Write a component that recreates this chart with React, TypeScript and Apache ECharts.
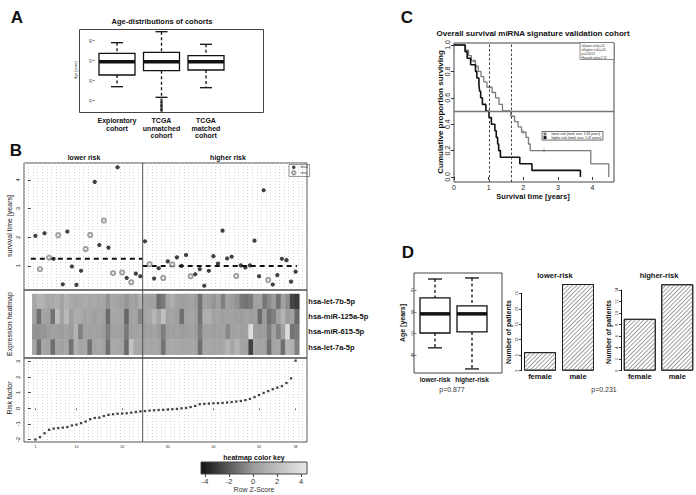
import React, { useEffect, useRef } from 'react';
import * as echarts from 'echarts';

const FONT = '"Liberation Sans", Arial, Helvetica, sans-serif';

// ---------- Panel A ----------
const cohortNames = ['Exploratory\ncohort', 'TCGA\nunmatched\ncohort', 'TCGA\nmatched\ncohort'];
// [lower whisker, Q1, median, Q3, upper whisker]
const cohortBoxStats = [
  [34, 45.7, 59, 67.4, 78],
  [23.4, 50, 59, 68.4, 89],
  [33, 50.7, 59, 65, 76.4],
];
const unmatchedOutliers = [21, 19, 18, 16, 15, 14, 12, 11, 10];
const ageTicksA = [20, 40, 60, 80];

// ---------- Panel B ----------
const survivalTime = [
  2.05, 0.89, 2.14, 1.29, 1.25, 2.07, 0.36, 2.2, 0.98, 0.34,
  0.83, 1.59, 2.08, 3.93, 1.73, 2.58, 1.64, 0.75, 4.44, 0.77,
  0.58, 0.43, 0.73, 0.64, 1.86, 1.06, 0.56, 0.92, 0.58, 1.16,
  1.05, 1.3, 1.0, 1.38, 0.64, 0.71, 0.89, 0.31, 0.83, 1.34,
  1.08, 2.23, 1.26, 1.32, 0.65, 1.02, 0.95, 1.02, 1.88, 0.64,
  3.64, 0.51, 0.35, 0.68, 1.25, 1.2, 0.45, 0.8,
];
// 1 = dead, 0 = alive
const deadStatus = [
  1, 0, 1, 0, 1, 0, 1, 1, 1, 1,
  1, 0, 0, 1, 1, 0, 1, 0, 1, 0,
  1, 0, 1, 1, 1, 0, 1, 1, 0, 1,
  0, 1, 1, 1, 0, 1, 1, 1, 1, 1,
  1, 1, 1, 1, 0, 1, 1, 1, 1, 1,
  1, 0, 1, 1, 1, 1, 1, 1,
];
const riskFactor = [
  -2.0, -1.85, -1.6, -1.38, -1.3, -1.27, -1.24, -1.2, -1.1, -1.05,
  -0.95, -0.85, -0.7, -0.62, -0.6, -0.5, -0.42, -0.38, -0.35, -0.34,
  -0.32, -0.28, -0.24, -0.2, -0.18, -0.15, -0.13, -0.11, -0.1, -0.08,
  -0.06, -0.04, 0.0, 0.02, 0.08, 0.15, 0.26, 0.28, 0.3, 0.32,
  0.33, 0.34, 0.37, 0.4, 0.43, 0.47, 0.52, 0.6, 0.72, 0.85,
  0.98, 1.1, 1.22, 1.32, 1.42, 1.62, 1.92, 3.05,
];
const groupMedianSurvival = [1.25, 1.0];
const lowerRiskCount = 24;
const patientTicks = [1, 10, 20, 30, 40, 50, 58];
const survivalTicks = [1, 2, 3, 4];
const riskTicks = [-2, -1, 0, 1, 2, 3];

const mirnaNames = ['hsa-let-7b-5p', 'hsa-miR-125a-5p', 'hsa-miR-615-5p', 'hsa-let-7a-5p'];
const exprLet7b = [
  0.6, 1.2, 1.1, 0.6, 0.7, 1.0, 0.4, 1.1, 0.7, 0.5,
  0.6, 0.8, 0.5, 0.7, 0.4, 0.5, -0.3, 0.6, 0.4, 0.2,
  -0.2, 0.3, 0.1, 1.0, 0.4, 0.2, 0.3, -1.3, -1.0, 0.5,
  0.9, 0.3, 0.1, 0.2, 0.4, 0.0, -1.2, 0.3, 0.1, -0.2,
  0.2, -0.8, 0.3, 0.0, -0.3, -1.0, -1.2, -1.0, 0.2, 0.3,
  -1.1, -0.5, 0.0, -1.2, 0.3, -0.4, -2.5, -2.8,
];
const expr125a = [
  0.3, -1.3, 0.4, 0.3, -1.2, 1.8, 0.3, 1.5, 0.2, 0.9,
  0.7, 0.3, 0.5, 0.2, 0.4, 0.3, -1.4, 0.6, 0.6, 0.4,
  -1.5, 0.3, 0.4, -0.6, 0.3, 0.5, 1.3, 0.4, 1.9, 0.3,
  0.4, 0.2, -1.3, 0.3, 0.5, 0.2, -1.2, 1.0, 1.0, 0.3,
  0.4, 0.2, 0.3, 0.3, 0.2, 0.0, 0.3, 0.1, 0.2, -1.4,
  0.0, -1.2, -0.8, 0.3, 1.2, 0.0, 0.2, -1.5,
];
const expr615 = [
  -0.3, -0.3, -0.2, 0.0, 0.2, 0.1, 0.0, 0.3, 0.0, 1.2,
  -0.8, 0.3, 0.2, 0.3, 0.2, 0.0, -0.9, 0.2, 0.3, 0.2,
  -1.0, 0.2, 0.3, 0.4, 0.1, 0.2, 0.4, 0.0, -0.9, 0.1,
  0.2, 0.3, 0.0, 0.2, 0.3, 0.1, -0.9, 0.2, 0.3, 0.1,
  0.2, 0.3, -0.6, 0.2, 0.4, 0.1, 0.2, 3.5, 0.2, 0.0,
  0.1, -0.9, 0.2, -0.8, 0.3, 3.3, -1.2, -1.0,
];
const exprLet7a = [
  0.4, -1.3, 0.5, 0.4, -1.3, 0.4, 0.3, 0.5, -1.2, 1.0,
  0.4, 0.5, -1.2, 0.4, 0.6, 0.3, -1.3, 0.7, 0.6, 0.4,
  -1.4, 2.0, 0.6, 0.5, 0.4, 0.5, 0.6, 0.4, -1.2, 0.6,
  0.7, 0.5, 0.4, 0.6, 0.5, 0.4, -1.3, 0.5, 0.6, 0.4,
  0.5, 0.6, 1.2, 0.5, 1.2, 0.4, 0.3, -2.6, 0.5, 0.4,
  0.3, -1.3, 0.4, 0.5, -1.3, 1.3, 1.1, -0.8,
];
const colorKeyTicks = [-4, -2, 0, 2, 4];

// ---------- Panel C ----------
const kmLowerTime = [0, 0.33, 0.42, 0.5, 0.62, 0.7, 0.78, 0.86, 0.95, 1.1, 1.2, 1.3, 1.4, 1.64, 1.75, 1.85, 1.95, 2.08, 2.15, 2.2, 3.95, 4.47];
const kmLowerSurv = [1.0, 0.96, 0.92, 0.88, 0.84, 0.8, 0.76, 0.72, 0.68, 0.64, 0.6, 0.55, 0.5, 0.46, 0.42, 0.38, 0.34, 0.3, 0.25, 0.2, 0.1, 0.0];
const kmHigherTime = [0, 0.32, 0.38, 0.48, 0.62, 0.66, 0.72, 0.74, 0.77, 0.82, 0.92, 1.01, 1.08, 1.18, 1.22, 1.26, 1.29, 1.34, 1.9, 2.25, 3.65];
const kmHigherSurv = [1.0, 0.95, 0.9, 0.85, 0.8, 0.75, 0.7, 0.65, 0.6, 0.55, 0.5, 0.45, 0.4, 0.35, 0.3, 0.25, 0.2, 0.15, 0.1, 0.05, 0.0];
const censorLowerTime = [0.58, 1.03, 2.0, 2.6];
const censorLowerSurv = [0.88, 0.68, 0.34, 0.2];
const medianSurvival = [1.64, 1.01];
const kmTimeTicks = [0, 1, 2, 3, 4];
const kmSurvTicks = [0, 0.2, 0.4, 0.6, 0.8, 1.0];
const kmInfo = ['n(lower-risk)=24', 'n(higher-risk)=20', 'p=0.0013', 'Hazard ratio=2.11'];

// ---------- Panel D ----------
const riskGroups = ['lower-risk', 'higher-risk'];
const ageBoxD = [
  [43.3, 50.2, 59.1, 66.5, 75.3],
  [33.5, 50.7, 59.1, 62.8, 75.8],
];
const ageTicksD = [40, 50, 60, 70];
const sexes = ['female', 'male'];
const lowerRiskSex = [6, 28];
const higherRiskSex = [9, 15];
const lowerSexTicks = [0, 5, 10, 15, 20, 25];
const higherSexTicks = [0, 2, 4, 6, 8, 10, 12, 14];

const INK = '#111';

function boxRenderer(boxW: number, capHalf: number, medW: number) {
  return (params: any, api: any) => {
    const x = api.value(0);
    const pLo = api.coord([x, api.value(1)]);
    const pQ1 = api.coord([x, api.value(2)]);
    const pMed = api.coord([x, api.value(3)]);
    const pQ3 = api.coord([x, api.value(4)]);
    const pHi = api.coord([x, api.value(5)]);
    const cx = pLo[0];
    const hw = boxW / 2;
    const dash = { stroke: INK, lineWidth: 1.3, lineDash: [3, 2.5] };
    const solid = { stroke: INK, lineWidth: 1.3 };
    return {
      type: 'group',
      children: [
        { type: 'line', shape: { x1: cx, y1: pHi[1], x2: cx, y2: pQ3[1] }, style: dash },
        { type: 'line', shape: { x1: cx, y1: pQ1[1], x2: cx, y2: pLo[1] }, style: dash },
        { type: 'line', shape: { x1: cx - capHalf, y1: pHi[1], x2: cx + capHalf, y2: pHi[1] }, style: solid },
        { type: 'line', shape: { x1: cx - capHalf, y1: pLo[1], x2: cx + capHalf, y2: pLo[1] }, style: solid },
        { type: 'rect', shape: { x: cx - hw, y: pQ3[1], width: boxW, height: pQ1[1] - pQ3[1] }, style: { fill: '#fff', stroke: INK, lineWidth: 1.3 } },
        { type: 'line', shape: { x1: cx - hw, y1: pMed[1], x2: cx + hw, y2: pMed[1] }, style: { stroke: INK, lineWidth: medW } },
      ],
    };
  };
}

function txt(text: string, x: number, y: number, size: number, opts: any = {}) {
  const align = opts.align || 'center';
  return {
    type: 'text',
    x,
    y,
    rotation: opts.rot || 0,
    silent: true,
    style: {
      text,
      fill: opts.color || INK,
      fontSize: size,
      fontWeight: opts.bold ? 'bold' : 'normal',
      fontFamily: FONT,
      textAlign: align,
      align,
      textVerticalAlign: opts.va || 'middle',
      verticalAlign: opts.va || 'middle',
      lineHeight: opts.lh,
    },
  };
}

function frame(x: number, y: number, w: number, h: number) {
  return { type: 'rect', silent: true, shape: { x, y, width: w, height: h }, style: { fill: 'none', stroke: '#444', lineWidth: 1 }, z: 50 };
}

const hiddenAxisBits = { axisLine: { show: false }, axisTick: { show: false }, axisLabel: { show: false }, splitLine: { show: false } };

function valueLabel(size: number, rotate = 0, extra: any = {}) {
  return { fontSize: size, color: '#222', rotate, fontFamily: FONT, ...extra };
}

const hatch = {
  symbol: 'rect', symbolSize: 1, color: '#a0a0a0', backgroundColor: '#ffffff',
  dashArrayX: [1, 0], dashArrayY: [1, 2], rotation: -Math.PI / 4,
};

export default function App() {
  const ref = useRef<HTMLDivElement>(null);

  useEffect(() => {
    if (!ref.current) return;
    const chart = echarts.init(ref.current, undefined, { renderer: 'svg' });

    const dotted = { show: true, lineStyle: { color: '#c8c8c8', type: [1, 2], width: 0.8 } };
    const divider = lowerRiskCount + 0.5;

    const deadPts = survivalTime.map((t, i) => (deadStatus[i] ? [i + 1, t] : null)).filter(Boolean);
    const alivePts = survivalTime.map((t, i) => (!deadStatus[i] ? [i + 1, t] : null)).filter(Boolean);
    const exprRows = [exprLet7b, expr125a, expr615, exprLet7a];
    const heatData: number[][] = [];
    exprRows.forEach((row, r) => row.forEach((v, c) => heatData.push([c, r, v])));

    const grids = [
      { left: 94.75, top: 29, width: 133.5, height: 83 }, // 0 A
      { left: 24, top: 163, width: 283, height: 127, show: true, borderColor: '#555', borderWidth: 1, backgroundColor: 'transparent' }, // 1 B scatter
      { left: 32.3, top: 294, width: 267, height: 60.7 }, // 2 heatmap
      { left: 24, top: 358, width: 283, height: 84, show: true, borderColor: '#555', borderWidth: 1, backgroundColor: 'transparent' }, // 3 risk
      {
        left: 201, top: 462, width: 106, height: 12, show: true, borderColor: '#444', borderWidth: 1,
        backgroundColor: new echarts.graphic.LinearGradient(0, 0, 1, 0, [
          { offset: 0, color: '#111111' },
          { offset: 0.5, color: '#9c9c9c' },
          { offset: 1, color: '#e8e8e8' },
        ]),
      }, // 4 color key
      { left: 454, top: 43, width: 160, height: 139, show: true, borderColor: '#444', borderWidth: 1, backgroundColor: 'transparent' }, // 5 C
      { left: 416.5, top: 273, width: 74, height: 100 }, // 6 D box
      { left: 521, top: 293.3, width: 76, height: 77.4 }, // 7 bar lower
      { left: 621, top: 290, width: 75, height: 80.7 }, // 8 bar higher
    ].map((g) => ({ ...g, containLabel: false, outerBoundsMode: 'none' }));

    const option: any = {
      animation: false,
      backgroundColor: '#fff',
      textStyle: { fontFamily: FONT },
      grid: grids,
      legend: [
        {
          data: ['dead', 'alive'], left: 289, top: 164.5, orient: 'vertical', itemWidth: 3.5, itemHeight: 3.5,
          itemGap: 1, padding: [1, 2], borderColor: '#555', borderWidth: 0.6, selectedMode: false,
          textStyle: { fontSize: 3.2, color: '#333', fontFamily: FONT },
        },
        {
          data: ['lower-risk (med. surv. 1.64 years)', 'higher-risk (med. surv. 1.01 years)'],
          left: 542, top: 131.5, orient: 'vertical', itemWidth: 3, itemHeight: 3, icon: 'rect',
          itemGap: 0.6, padding: [1, 1.5], borderColor: '#333', borderWidth: 0.7, selectedMode: false,
          textStyle: { fontSize: 3.3, color: '#222', fontFamily: FONT },
        },
      ],
      visualMap: [
        {
          type: 'continuous', show: false, seriesIndex: 8, dimension: 2, min: -4, max: 4,
          inRange: { color: ['#111111', '#9c9c9c', '#e8e8e8'] },
        },
      ],
      xAxis: [
        { gridIndex: 0, type: 'category', data: cohortNames, axisLine: { show: false }, axisTick: { show: false },
          axisLabel: { interval: 0, fontSize: 7, fontWeight: 'bold', color: INK, lineHeight: 7.5, margin: 5 } },
        { gridIndex: 1, type: 'value', min: -1.5, max: 60.5, interval: 1, axisLine: { show: false }, axisTick: { show: false }, axisLabel: { show: false }, splitLine: dotted },
        { gridIndex: 2, type: 'category', data: survivalTime.map((_, i) => String(i + 1)), ...hiddenAxisBits },
        // 3: risk factor labelled axis
        { gridIndex: 3, type: 'value', position: 'bottom', min: -1.5, max: 60.5, axisLine: { show: false },
          axisTick: { show: true, length: 2, customValues: patientTicks, lineStyle: { color: '#555', width: 0.8 } },
          axisLabel: valueLabel(3.5, 0, { customValues: patientTicks, margin: 3 }), splitLine: { show: false } },
        { gridIndex: 4, type: 'value', min: -4.33, max: 4.5, axisLine: { show: false },
          axisTick: { show: true, length: 3, customValues: colorKeyTicks, lineStyle: { color: '#444' } },
          axisLabel: valueLabel(7.5, 0, { customValues: colorKeyTicks, margin: 3, color: '#333' }), splitLine: { show: false } },
        { gridIndex: 5, type: 'value', min: 0, max: 4.62, axisLine: { show: false },
          axisTick: { show: true, length: 3, customValues: kmTimeTicks, lineStyle: { color: '#333' } },
          axisLabel: valueLabel(7, 0, { customValues: kmTimeTicks, margin: 2 }), splitLine: { show: false } },
        { gridIndex: 6, type: 'category', data: riskGroups, axisLine: { show: false }, axisTick: { show: false },
          axisLabel: { interval: 0, fontSize: 6.5, fontWeight: 'bold', color: INK, margin: 3 } },
        { gridIndex: 7, type: 'category', data: sexes, axisLine: { show: false }, axisTick: { show: false },
          axisLabel: { interval: 0, fontSize: 7.5, fontWeight: 'bold', color: INK, margin: 2 } },
        { gridIndex: 8, type: 'category', data: sexes, axisLine: { show: false }, axisTick: { show: false },
          axisLabel: { interval: 0, fontSize: 7.5, fontWeight: 'bold', color: INK, margin: 2 } },
        // 9: risk factor dotted grid axis (same scale as axis 3)
        { gridIndex: 3, type: 'value', position: 'top', min: -1.5, max: 60.5, interval: 1, axisLine: { show: false },
          axisTick: { show: false }, axisLabel: { show: false }, splitLine: dotted },
      ],
      yAxis: [
        { gridIndex: 0, type: 'value', min: 8.7, max: 91.7, axisLine: { show: false }, splitLine: { show: false },
          axisTick: { show: true, length: 2, customValues: ageTicksA, lineStyle: { color: '#444', width: 0.7 } },
          axisLabel: valueLabel(3.5, 90, { customValues: ageTicksA, margin: 2 }) },
        { gridIndex: 1, type: 'value', min: 0.16, max: 4.59, axisLine: { show: false }, splitLine: { show: false },
          axisTick: { show: true, length: 3, customValues: survivalTicks, lineStyle: { color: '#444' } },
          axisLabel: valueLabel(6, 90, { customValues: survivalTicks, margin: 3 }) },
        { gridIndex: 2, type: 'category', data: mirnaNames, inverse: true, position: 'right',
          axisLine: { show: false }, axisTick: { show: false }, splitLine: { show: false },
          axisLabel: { interval: 0, fontSize: 7.5, fontWeight: 'bold', color: INK, margin: 9, align: 'left' } },
        { gridIndex: 3, type: 'value', min: -2.16, max: 3.22, axisLine: { show: false }, splitLine: { show: false },
          axisTick: { show: true, length: 3, customValues: riskTicks, lineStyle: { color: '#444' } },
          axisLabel: valueLabel(6, 90, { customValues: riskTicks, margin: 3 }) },
        { gridIndex: 4, type: 'value', min: 0, max: 1, ...hiddenAxisBits },
        { gridIndex: 5, type: 'value', min: -0.038, max: 1.015, axisLine: { show: false }, splitLine: { show: false },
          axisTick: { show: true, length: 3, customValues: kmSurvTicks, lineStyle: { color: '#333' } },
          axisLabel: valueLabel(7, 90, { customValues: kmSurvTicks, margin: 3, formatter: (v: number) => v.toFixed(1) }) },
        { gridIndex: 6, type: 'value', min: 31.6, max: 78.1, axisLine: { show: false }, splitLine: { show: false },
          axisTick: { show: true, length: 2, customValues: ageTicksD, lineStyle: { color: '#444', width: 0.7 } },
          axisLabel: valueLabel(3.8, 90, { customValues: ageTicksD, margin: 2 }) },
        { gridIndex: 7, type: 'value', min: 0, max: 25, splitLine: { show: false },
          axisLine: { show: true, lineStyle: { color: INK, width: 1 } },
          axisTick: { show: true, length: 2, customValues: lowerSexTicks, lineStyle: { color: INK, width: 0.8 } },
          axisLabel: valueLabel(3.8, 90, { customValues: lowerSexTicks, margin: 2 }) },
        { gridIndex: 8, type: 'value', min: 0, max: 14, splitLine: { show: false },
          axisLine: { show: true, lineStyle: { color: INK, width: 1 } },
          axisTick: { show: true, length: 2, customValues: higherSexTicks, lineStyle: { color: INK, width: 0.8 } },
          axisLabel: valueLabel(3.8, 90, { customValues: higherSexTicks, margin: 2 }) },
      ],
      series: [
        // 0 A boxplots
        { type: 'custom', xAxisIndex: 0, yAxisIndex: 0, renderItem: boxRenderer(36, 6, 3.5),
          encode: { x: 0, y: [1, 2, 3, 4, 5] }, data: cohortBoxStats.map((s, i) => [i, ...s]), silent: true },
        // 1 A outliers
        { type: 'scatter', xAxisIndex: 0, yAxisIndex: 0, symbol: 'circle', symbolSize: 2.6,
          itemStyle: { color: '#222' }, data: unmatchedOutliers.map((v) => [1, v]), silent: true },
        // 2 B dead
        { type: 'scatter', name: 'dead', xAxisIndex: 1, yAxisIndex: 1, symbol: 'circle', symbolSize: 4.2,
          itemStyle: { color: INK }, data: deadPts, z: 5, silent: true },
        // 3 B alive
        { type: 'scatter', name: 'alive', xAxisIndex: 1, yAxisIndex: 1, symbol: 'emptyCircle', symbolSize: 4.2,
          itemStyle: { color: '#8a8a8a', borderWidth: 1.3 }, data: alivePts, z: 5, silent: true },
        // 4 lower risk median dashed
        { type: 'line', xAxisIndex: 1, yAxisIndex: 1, symbol: 'none', silent: true,
          lineStyle: { color: INK, width: 2, type: [5, 4] },
          data: [[0, groupMedianSurvival[0]], [divider, groupMedianSurvival[0]]], z: 4 },
        // 5 higher risk median dashed
        { type: 'line', xAxisIndex: 1, yAxisIndex: 1, symbol: 'none', silent: true,
          lineStyle: { color: INK, width: 2, type: [5, 4] },
          data: [[divider, groupMedianSurvival[1]], [58.3, groupMedianSurvival[1]]], z: 4 },
        // 6 divider through the three B panels
        { type: 'line', xAxisIndex: 1, yAxisIndex: 1, symbol: 'none', silent: true, clip: false,
          lineStyle: { color: '#555', width: 1 }, data: [[divider, 4.59], [divider, -5.14]], z: 20 },
        // 7 risk factor
        { type: 'scatter', xAxisIndex: 3, yAxisIndex: 3, symbol: 'rect', symbolSize: 2.3,
          itemStyle: { color: INK }, data: riskFactor.map((v, i) => [i + 1, v]), silent: true },
        // 8 heatmap
        { type: 'heatmap', xAxisIndex: 2, yAxisIndex: 2, data: heatData, silent: true, itemStyle: { borderWidth: 0 } },
        // 9 KM lower (gray)
        { type: 'line', name: 'lower-risk (med. surv. 1.64 years)', xAxisIndex: 5, yAxisIndex: 5, step: 'end',
          symbol: 'none', silent: true, color: '#7a7a7a', lineStyle: { color: '#7a7a7a', width: 1.3 },
          data: kmLowerTime.map((t, i) => [t, kmLowerSurv[i]]), z: 3,
          markLine: { silent: true, symbol: ['none', 'none'], label: { show: false },
            lineStyle: { color: '#777', width: 1.3, type: 'solid' }, data: [{ yAxis: 0.5 }] } },
        // 10 KM higher (black)
        { type: 'line', name: 'higher-risk (med. surv. 1.01 years)', xAxisIndex: 5, yAxisIndex: 5, step: 'end',
          symbol: 'none', silent: true, color: INK, lineStyle: { color: INK, width: 1.6 },
          data: kmHigherTime.map((t, i) => [t, kmHigherSurv[i]]), z: 4,
          markLine: { silent: true, symbol: ['none', 'none'], label: { show: false },
            lineStyle: { color: '#333', width: 0.9, type: [2.5, 2] },
            data: [{ xAxis: medianSurvival[1] }, { xAxis: medianSurvival[0] }] } },
        // 11 censor marks
        { type: 'scatter', xAxisIndex: 5, yAxisIndex: 5, symbol: 'path://M5,0 L5,10 M0,5 L10,5', symbolSize: 4,
          itemStyle: { color: 'none', borderColor: '#7a7a7a', borderWidth: 0.9 },
          data: censorLowerTime.map((t, i) => [t, censorLowerSurv[i]]), silent: true },
        // 12 D boxplots
        { type: 'custom', xAxisIndex: 6, yAxisIndex: 6, renderItem: boxRenderer(30, 7, 3.5),
          encode: { x: 0, y: [1, 2, 3, 4, 5] }, data: ageBoxD.map((s, i) => [i, ...s]), silent: true },
        // 13 bars lower risk
        { type: 'bar', xAxisIndex: 7, yAxisIndex: 7, barWidth: 32, clip: false, silent: true, data: lowerRiskSex,
          itemStyle: { color: '#fff', borderColor: '#222', borderWidth: 1, decal: hatch } },
        // 14 bars higher risk
        { type: 'bar', xAxisIndex: 8, yAxisIndex: 8, barWidth: 32, clip: false, silent: true, data: higherRiskSex,
          itemStyle: { color: '#fff', borderColor: '#222', borderWidth: 1, decal: hatch } },
      ],
      graphic: [
        frame(79.5, 29.5, 184, 83),
        frame(24, 290, 283, 68),
        frame(414, 273, 88, 100),
        { type: 'rect', silent: true, shape: { x: 580, y: 42.5, width: 34, height: 17 }, style: { fill: '#fff', stroke: '#444', lineWidth: 0.6 }, z: 40 },
        { ...txt(kmInfo.join('\n'), 581.5, 44, 3.2, { align: 'left', va: 'top', lh: 4, color: '#333' }), z: 41 },
        txt('A', 17, 17, 17, { bold: true }),
        txt('Age-distributions of cohorts', 162, 21, 7.5, { bold: true }),
        txt('Age [years]', 76, 70, 3.5, { rot: Math.PI / 2, color: '#333' }),
        txt('B', 16, 150, 17, { bold: true }),
        txt('lower risk', 84, 157, 7, { bold: true }),
        txt('higher risk', 228, 157, 7, { bold: true }),
        txt('survival time [years]', 9, 226, 7, { rot: Math.PI / 2 }),
        txt('Expression heatmap', 9, 324, 7, { rot: Math.PI / 2 }),
        txt('Risk factor', 9, 398, 7, { rot: Math.PI / 2 }),
        txt('heatmap color key', 254, 457, 7, { bold: true }),
        txt('Row Z-Score', 254, 489, 7, { color: '#333' }),
        txt('C', 407, 17, 17, { bold: true }),
        txt('Overall survival miRNA signature validation cohort', 533, 33, 8, { bold: true }),
        txt('Cumulative proportion surviving', 440, 112, 8, { bold: true, rot: Math.PI / 2 }),
        txt('Survival time [years]', 533, 196, 7.5, { bold: true }),
        txt('D', 408, 252, 17, { bold: true }),
        txt('Age [years]', 402, 323, 7, { bold: true, rot: Math.PI / 2 }),
        txt('p=0.877', 452, 389, 7, { color: '#333' }),
        txt('lower-risk', 555, 275, 7.5, { bold: true }),
        txt('higher-risk', 659, 275, 7.5, { bold: true }),
        txt('Number of patients', 508, 332, 7, { bold: true, rot: Math.PI / 2 }),
        txt('Number of patients', 608, 332, 7, { bold: true, rot: Math.PI / 2 }),
        txt('p=0.231', 604, 389, 7, { color: '#333' }),
      ],
    };

    chart.setOption(option);
    return () => chart.dispose();
  }, []);

  return <div ref={ref} style={{ position: 'fixed', left: 0, top: 0, width: 696, height: 495, background: '#fff' }} />;
}
